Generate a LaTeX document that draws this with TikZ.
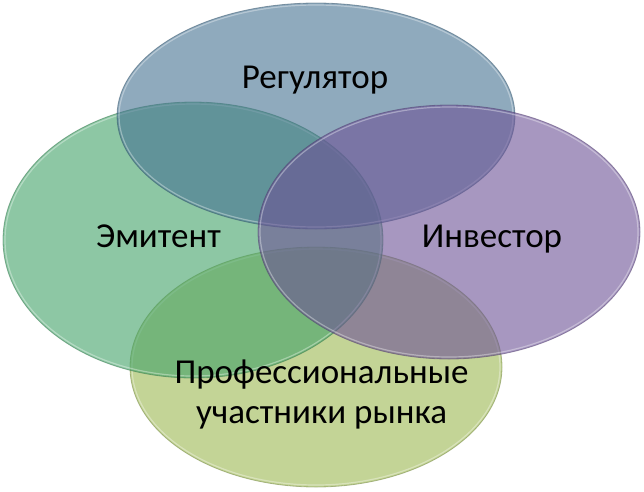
\documentclass[tikz,border=0pt]{standalone}
\usepackage{fontspec}
\setmainfont{Carlito}
\definecolor{cblue}{RGB}{68,113,145}
\definecolor{cgreen}{RGB}{65,162,103}
\definecolor{cpurple}{RGB}{108,82,150}
\definecolor{cyellow}{RGB}{155,183,80}
\tikzset{
  venn/.style={fill=#1, fill opacity=0.6, draw=#1!70!black, draw opacity=0.5, line width=0.8pt},
  rim/.style={draw=white, draw opacity=0.35, line width=1.2pt},
  label/.style={font=\fontsize{35}{40}\selectfont, text=black, align=center, inner sep=0pt}
}
\begin{document}
\begin{tikzpicture}[x=1pt,y=-1pt]
\useasboundingbox (0,0) rectangle (644,491);
% order: bottom, left, top, right
\path[venn=cyellow] (316,367) ellipse [x radius=186pt, y radius=120pt];
\path[rim] (316,367) ellipse [x radius=184pt, y radius=118pt];
\path[venn=cgreen] (193,240) ellipse [x radius=190pt, y radius=138pt];
\path[rim] (193,240) ellipse [x radius=188pt, y radius=136pt];
\path[venn=cblue] (316,116) ellipse [x radius=199pt, y radius=113pt];
\path[rim] (316,116) ellipse [x radius=197pt, y radius=111pt];
\path[venn=cpurple] (449,232) ellipse [x radius=191pt, y radius=127pt];
\path[rim] (449,232) ellipse [x radius=189pt, y radius=125pt];
\node[label, anchor=base] (reg) at (315,88) {Регулятор};
\node[label, anchor=base] (emi) at (158.5,247) {Эмитент};
\node[label, anchor=base] (inv) at (492,247) {Инвестор};
\node[label, anchor=base] (prof) at (321.5,423) {Профессиональные\\участники рынка};
\end{tikzpicture}
\end{document}
